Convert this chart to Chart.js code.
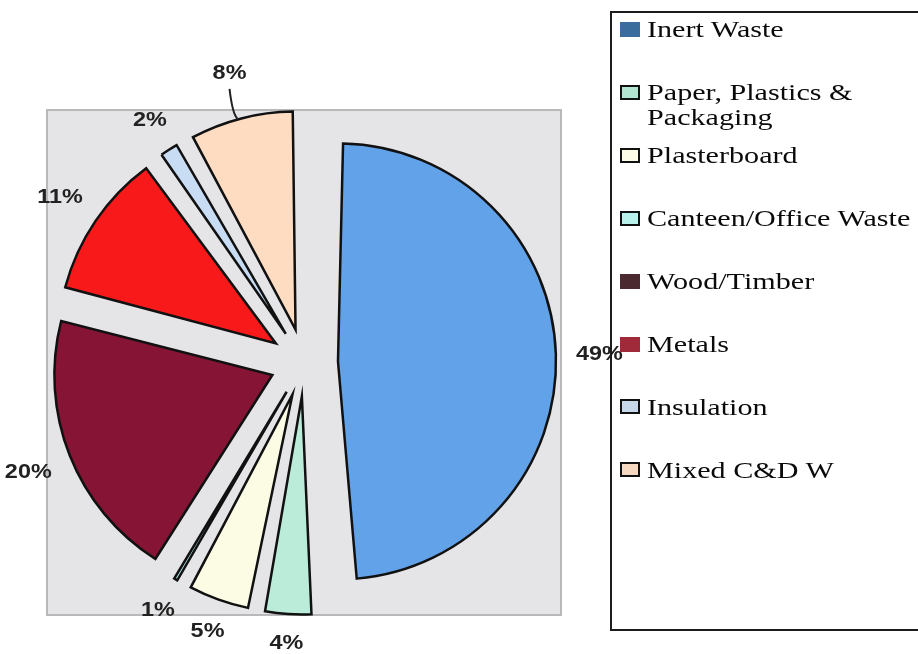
<!DOCTYPE html>
<html>
<head>
<meta charset="utf-8">
<title>Construction waste composition</title>
<script src="https://cdn.jsdelivr.net/npm/chart.js@4.4.1/dist/chart.umd.min.js"></script>
<style>
  html, body { margin: 0; padding: 0; background: #fff; overflow: hidden; }
  #wrap { position: relative; width: 918px; height: 654px; overflow: hidden; }
  #pie { position: absolute; left: 0; top: 0; }
  #legend {
    position: absolute; left: 610px; top: 11px; width: 340px; height: 620px;
    border: 2px solid #1c1c1c; border-right: none; box-sizing: border-box;
  }
  .sw { position: absolute; left: 8px; width: 20px; height: 15px; box-sizing: border-box; }
  .txt {
    position: absolute; left: 35px; font: 23px "Liberation Serif", "Times New Roman", serif;
    line-height: 25px; color: #0a0a0a; white-space: nowrap;
    transform: scaleX(1.31); transform-origin: left top;
  }
</style>
</head>
<body>
<div id="wrap">
  <canvas id="pie" width="918" height="654"></canvas>
  <div id="legend"></div>
</div>
<script>
// waste streams, clockwise from 12 o'clock
const categories = ['Inert Waste', 'Paper, Plastics & Packaging', 'Plasterboard', 'Canteen/Office Waste',
  'Wood/Timber', 'Metals', 'Insulation', 'Mixed C&D W'];
const shares = [49, 4, 5, 1, 20, 11, 2, 8];

const sliceColors = ['#62a2e8', '#bbecda', '#fcfbe4', '#b6eef2', '#861435', '#f81a1a', '#c8dcf4', '#fddcc2'];
const keyColors = ['#3b6c9e', '#b2e6d2', '#fbfbe6', '#b8f0ec', '#4a2a30', '#a02a3a', '#c6d8ea', '#f6d8c0'];
const keyOutlined = [false, true, true, true, false, false, true, true];

// grey plot area behind the pie
const plotBackground = {
  id: 'plotBackground',
  beforeDraw(chart) {
    const { ctx, chartArea: a } = chart;
    ctx.save();
    ctx.fillStyle = '#e5e5e7';
    ctx.fillRect(a.left, a.top, a.width, a.height);
    ctx.strokeStyle = '#b9b9bb';
    ctx.lineWidth = 2;
    ctx.strokeRect(a.left + 1, a.top + 1, a.width - 2, a.height - 2);
    ctx.restore();
  }
};

// arcs grow by offset/4 * (1 - sin(circumference)) when exploded; undo that so every slice keeps the same radius
const evenRadius = {
  id: 'evenRadius',
  afterDatasetsUpdate(chart) {
    const meta = chart.getDatasetMeta(0);
    const base = meta.controller.outerRadius;
    meta.data.forEach(arc => {
      const shift = (arc.options.offset || 0) / 4;
      const fix = 1 - Math.sin(Math.min(Math.PI, arc.circumference));
      arc.outerRadius = base - shift * fix;
    });
  }
};

// percentage labels outside each slice
const pctLabels = {
  id: 'pctLabels',
  afterDatasetsDraw(chart, args, opts) {
    const { ctx } = chart;
    const meta = chart.getDatasetMeta(0);
    const R = meta.controller.outerRadius;
    const shift = chart.data.datasets[0].offset / 4;
    ctx.save();
    ctx.font = opts.font;
    ctx.fillStyle = opts.color;
    ctx.strokeStyle = opts.color;
    ctx.textAlign = 'center';
    ctx.textBaseline = 'middle';
    meta.data.forEach((arc, i) => {
      const mid = (arc.startAngle + arc.endAngle) / 2;
      const dx = Math.cos(mid), dy = Math.sin(mid);
      const text = shares[i] + '%';
      const w = ctx.measureText(text).width * opts.stretch;
      let r = R + shift + opts.gap + Math.abs(dx) * w / 2 + Math.abs(dy) * opts.textHeight / 2;
      if (i === opts.leaderIndex) r += opts.leaderExtra;
      const lx = arc.x + dx * r, ly = arc.y + dy * r;

      if (i === opts.leaderIndex) {
        const ex = arc.x + dx * (R + shift), ey = arc.y + dy * (R + shift);
        const sy = ly + opts.textHeight / 2 + 9;
        ctx.lineWidth = 2;
        ctx.beginPath();
        ctx.moveTo(lx, sy);
        ctx.quadraticCurveTo(lx + 3, ey - 4, ex - 4, ey);
        ctx.stroke();
      }

      ctx.save();
      ctx.translate(lx, ly);
      ctx.scale(opts.stretch, 1);
      ctx.fillText(text, 0, 1);
      ctx.restore();
    });
    ctx.restore();
  }
};

const chart = new Chart(document.getElementById('pie'), {
  type: 'pie',
  data: {
    labels: categories,
    datasets: [{
      data: shares,
      backgroundColor: sliceColors,
      borderColor: '#111',
      borderWidth: 2.5,
      borderJoinStyle: 'miter',
      offset: 136
    }]
  },
  options: {
    responsive: false,
    animation: false,
    events: [],
    radius: 218,
    clip: false,
    layout: { padding: { left: 46, top: 109, right: 356, bottom: 38 } },
    plugins: {
      legend: { display: false },
      tooltip: { enabled: false },
      pctLabels: {
        font: 'bold 20px "Liberation Sans", Arial, sans-serif',
        color: '#222',
        stretch: 1.17,
        textHeight: 15,
        gap: 20,
        leaderIndex: 7,
        leaderExtra: 16
      }
    }
  },
  plugins: [plotBackground, evenRadius, pctLabels]
});

// legend panel on the right
const legend = document.getElementById('legend');
categories.forEach((name, i) => {
  const rowY = 17 + i * 62.9;          // cap-centre of the first text line, inside the panel
  const sw = document.createElement('div');
  sw.className = 'sw';
  sw.style.top = (rowY - 8) + 'px';
  sw.style.background = keyColors[i];
  sw.style.border = keyOutlined[i] ? '2px solid #111' : '1px solid ' + keyColors[i];
  legend.appendChild(sw);

  const t = document.createElement('div');
  t.className = 'txt';
  t.style.top = (rowY - 12.6) + 'px';
  t.innerHTML = name.replace('&', '&amp;').replace('&amp; ', '&amp;<br>');
  legend.appendChild(t);
});
</script>
</body>
</html>
